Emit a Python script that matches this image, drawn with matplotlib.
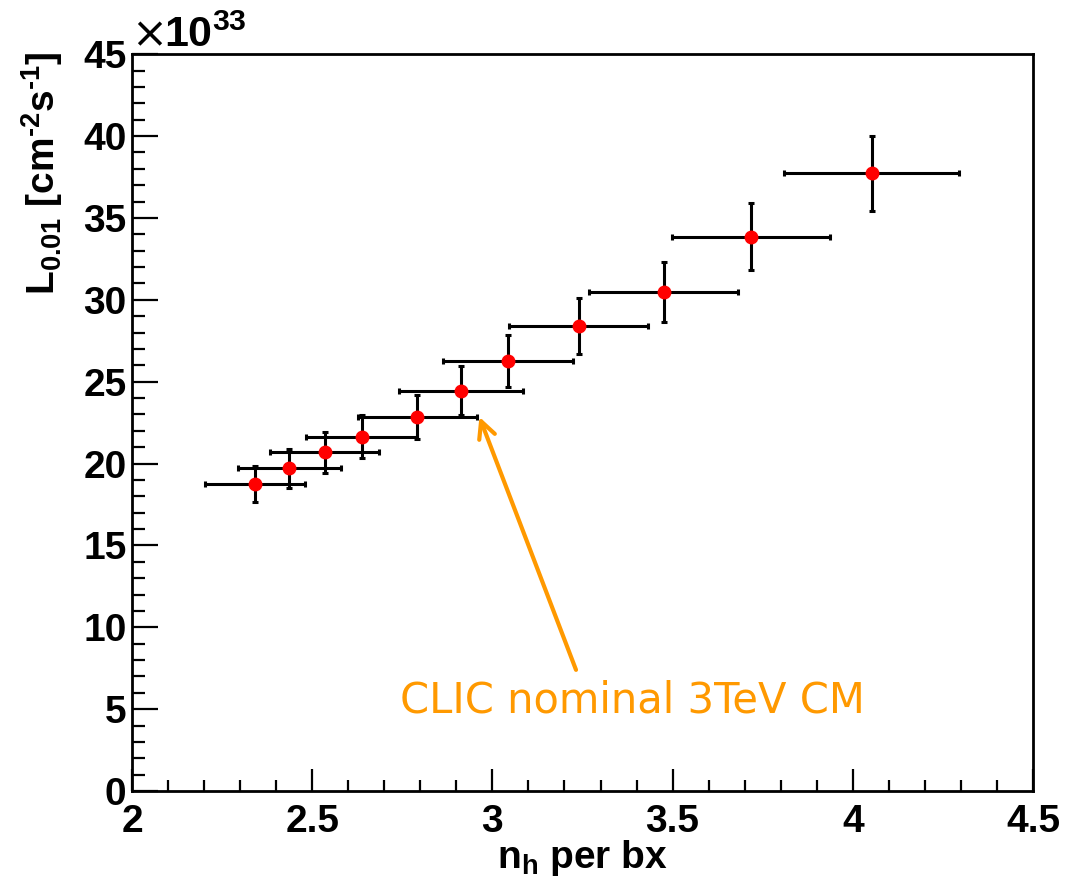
import matplotlib
matplotlib.use("Agg")
import matplotlib.pyplot as plt
from matplotlib.ticker import MultipleLocator

# luminosity (x1e33) vs. hadronic events per bunch crossing
n_h = [2.341, 2.437, 2.535, 2.638, 2.792, 2.913, 3.044, 3.239, 3.475, 3.717, 4.052]
n_h_err = [0.139, 0.144, 0.151, 0.154, 0.166, 0.172, 0.180, 0.192, 0.206, 0.220, 0.242]
lumi = [18.78, 19.71, 20.69, 21.63, 22.85, 24.45, 26.27, 28.41, 30.47, 33.85, 37.73]
lumi_err = [1.10, 1.18, 1.26, 1.31, 1.35, 1.50, 1.60, 1.70, 1.83, 2.04, 2.29]

nominal_point = (2.964, 22.85)
arrow_tail = (3.232, 7.4)
note_pos = (3.389, 5.5)
note_text = "CLIC nominal 3TeV CM"

plt.rcParams["font.family"] = ["Liberation Sans", "DejaVu Sans"]
plt.rcParams["font.weight"] = "bold"
plt.rcParams["mathtext.fontset"] = "custom"
plt.rcParams["mathtext.rm"] = "Liberation Sans:bold"
plt.rcParams["mathtext.it"] = "Liberation Sans:bold"
plt.rcParams["mathtext.bf"] = "Liberation Sans:bold"

fig = plt.figure(figsize=(10.8, 8.88), dpi=100)
ax = fig.add_axes([0.1222, 0.1092, 0.8343, 0.8297])

ax.errorbar(n_h, lumi, xerr=n_h_err, yerr=lumi_err, fmt="o", color="black",
            ecolor="black", elinewidth=2.2, capsize=2.5, capthick=2.2,
            markerfacecolor="red", markeredgecolor="red", markersize=9, zorder=3)

ax.set_xlim(2, 4.5)
ax.set_ylim(0, 45)
ax.xaxis.set_major_locator(MultipleLocator(0.5))
ax.xaxis.set_minor_locator(MultipleLocator(0.1))
ax.yaxis.set_major_locator(MultipleLocator(5))
ax.yaxis.set_minor_locator(MultipleLocator(1))
ax.xaxis.set_major_formatter(plt.FuncFormatter(lambda v, p: f"{v:g}"))
ax.yaxis.set_major_formatter(plt.FuncFormatter(lambda v, p: f"{v:g}"))

for side in ax.spines.values():
    side.set_linewidth(2)
ax.tick_params(axis="both", which="both", direction="in", top=False, right=False,
               width=1.6, labelsize=28)
ax.tick_params(axis="x", which="major", length=15.6, pad=9)
ax.tick_params(axis="x", which="minor", length=8)
ax.tick_params(axis="y", which="major", length=18.7, pad=4)
ax.tick_params(axis="y", which="minor", length=9.2)

ax.set_xlabel(r"n$_{h}$ per bx", fontsize=28, fontweight="bold", labelpad=-1)
fig.text(0.039, 0.942, r"L$_{0.01}$ [cm$^{\text{-}2}$s$^{\text{-}1}$]", rotation=90,
         ha="center", va="top", fontsize=28, fontweight="bold")
fig.text(0.121, 0.947, "×", ha="left", va="baseline", fontsize=31,
         fontweight="normal", family=["DejaVu Sans"])
fig.text(0.152, 0.947, r"10$^{33}$", ha="left", va="baseline",
         fontsize=31, fontweight="bold")

ax.annotate("", xy=nominal_point, xytext=arrow_tail,
            arrowprops=dict(arrowstyle="->", color="#ff9900", lw=3,
                            mutation_scale=30, shrinkA=0, shrinkB=0))
ax.text(*note_pos, note_text, ha="center", va="center", fontsize=30,
        fontweight="normal", color="#ff9900", family=["DejaVu Sans"])

fig.savefig("out.png", dpi=100)
